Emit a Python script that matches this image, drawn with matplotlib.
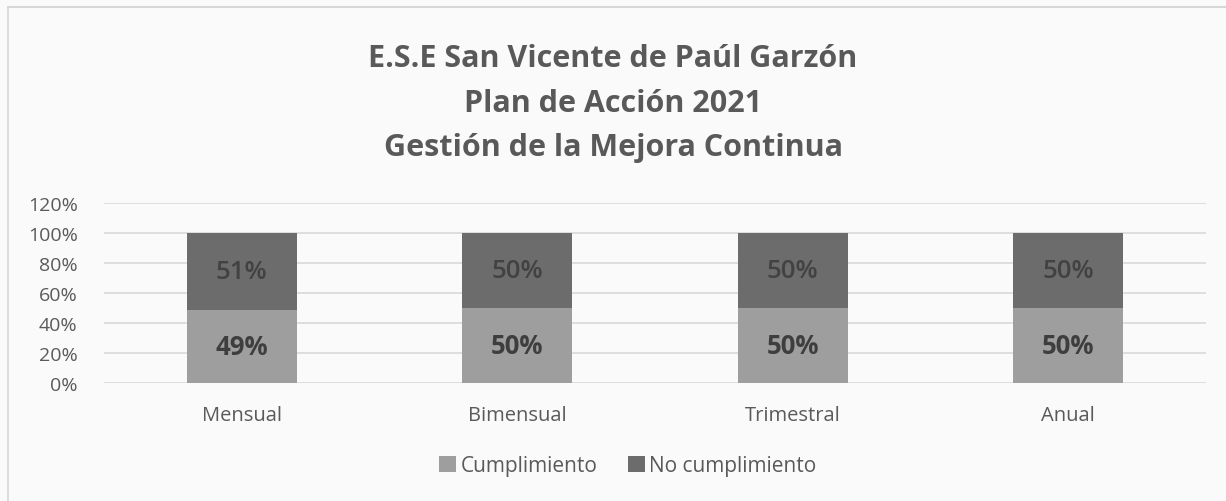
import matplotlib.pyplot as plt
import numpy as np

categorias = ["Mensual", "Bimensual", "Trimestral", "Anual"]
cumplimiento = [0.49, 0.50, 0.50, 0.50]
no_cumplimiento = [0.51, 0.50, 0.50, 0.50]
yticks = [0, 0.2, 0.4, 0.6, 0.8, 1.0, 1.2]
titulo = ["E.S.E San Vicente de Paúl Garzón", "Plan de Acción 2021", "Gestión de la Mejora Continua"]

plt.rcParams['font.family'] = ['Open Sans', 'DejaVu Sans']

W, H = 1226, 502
fig = plt.figure(figsize=(W/100, H/100), dpi=100, facecolor='#fafafa')
# axes box in pixels: left 104, right 1206, bottom y=384, top (120%) y=204
ax = fig.add_axes([104/W, 1 - 384/H, 1102/W, 180/H])
ax.set_facecolor('#fafafa')

x = np.arange(len(categorias))
c1, c2 = '#9e9e9e', '#6c6c6c'
b1 = ax.bar(x, cumplimiento, width=0.4, color=c1, label='Cumplimiento', zorder=3)
b2 = ax.bar(x, no_cumplimiento, width=0.4, bottom=cumplimiento, color=c2,
            label='No cumplimiento', zorder=3)

for rect, v in zip(b1, cumplimiento):
    ax.text(rect.get_x() + rect.get_width()/2, v/2, f"{v:.0%}", ha='center', va='center',
            fontsize=18.5, fontweight='bold', color='#3e3e3e', zorder=4)
for rect, b, v in zip(b2, cumplimiento, no_cumplimiento):
    ax.text(rect.get_x() + rect.get_width()/2, b + v/2, f"{v:.0%}", ha='center', va='center',
            fontsize=18.5, fontweight='semibold', color='#424242', zorder=4)

ax.set_xlim(-0.5, len(categorias) - 0.5)
ax.set_ylim(0, 1.2)
ax.set_yticks(yticks)
ax.set_yticklabels([f"{t:.0%}" for t in yticks], fontsize=14, color='#5a5a5a')
ax.set_xticks(x)
ax.set_xticklabels(categorias, fontsize=14.5, color='#5a5a5a')
ax.tick_params(length=0)
ax.tick_params(axis='y', pad=19)
ax.tick_params(axis='x', pad=16)
ax.yaxis.grid(True, color='#d9d9d9', linewidth=1.2, zorder=0)
for s in ax.spines.values():
    s.set_visible(False)

for i, (line, base) in enumerate(zip(titulo, [67, 112, 156])):
    fig.text(0.5, 1 - base/H, line, ha='center', va='baseline',
             fontsize=22, fontweight='bold', color='#595959')

leg = fig.legend(handles=[b1, b2], loc='center', bbox_to_anchor=(628/W, 1 - 467/H),
                 ncol=2, frameon=False, fontsize=15, handlelength=0.8, handleheight=0.8,
                 columnspacing=1.5, handletextpad=0.2)
for t in leg.get_texts():
    t.set_color('#5a5a5a')

# scanned frame: top and left edges
fig.add_artist(plt.Line2D([8/W, 1], [1 - 8/H, 1 - 8/H], transform=fig.transFigure,
                          color='#cfcfcf', linewidth=1.2))
fig.add_artist(plt.Line2D([8/W, 8/W], [0, 1 - 8/H], transform=fig.transFigure,
                          color='#d6d6d6', linewidth=1.2))

fig.savefig("out.png", dpi=100, facecolor=fig.get_facecolor())
